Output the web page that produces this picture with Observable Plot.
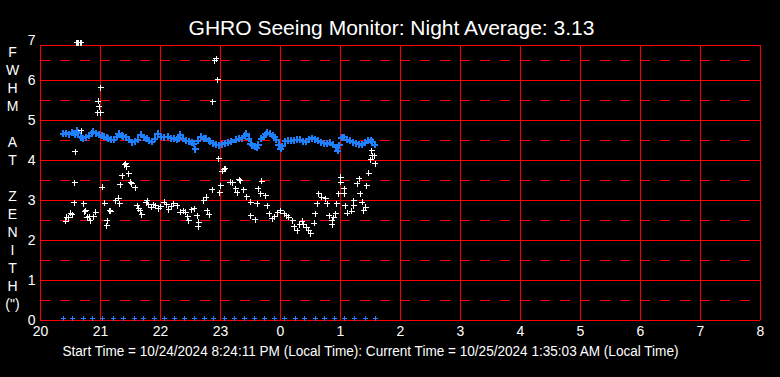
<!DOCTYPE html>
<html><head><meta charset="utf-8">
<script src="https://cdn.jsdelivr.net/npm/d3@7"></script>
<script src="https://cdn.jsdelivr.net/npm/@observablehq/plot@0.6"></script>
<style>html,body{margin:0;padding:0;background:#000;overflow:hidden;}</style>
</head><body><div id="chart"></div>
<script>
const titleText = "GHRO Seeing Monitor: Night Average: 3.13";
const footerText = "Start Time = 10/24/2024 8:24:11 PM (Local Time): Current Time = 10/25/2024 1:35:03 AM (Local Time)";
const yAxisLetters = ["F","W","H","M","\u00A0","A","T","\u00A0","Z","E","N","I","T","H","(\")"];

const xTickValues = [20,21,22,23,24,25,26,27,28,29,30,31,32];
const xTickLabels = ["20","21","22","23","0","1","2","3","4","5","6","7","8"];
const yTickValues = [0,1,2,3,4,5,6,7];
const yTickLabels = ["0","1","2","3","4","5","6","7"];
const xGrid = [21,22,23,24,25,26,27,28,29,30,31];
const yGridSolid = [1,2,3,4,5,6];
const yGridDashed = [0.5,1.5,2.5,3.5,4.5,5.5,6.5];
const xFrame = [20,32];
const yFrame = [0,6.875];

// blue series (hours, FWHM)
const blueTime = [20.383,20.433,20.483,20.533,20.567,20.600,20.633,20.667,20.700,20.750,20.800,20.850,20.883,20.933,20.967,21.017,21.050,21.100,21.133,21.183,21.217,21.267,21.300,21.350,21.383,21.433,21.483,21.533,21.583,21.617,21.667,21.717,21.767,21.800,21.850,21.900,21.950,22.000,22.050,22.117,22.167,22.217,22.267,22.300,22.333,22.383,22.433,22.467,22.517,22.550,22.583,22.617,22.667,22.717,22.750,22.800,22.833,22.883,22.917,22.967,23.017,23.083,23.133,23.183,23.250,23.300,23.350,23.400,23.433,23.467,23.500,23.533,23.567,23.600,23.633,23.683,23.717,23.750,23.783,23.833,23.867,23.900,23.933,23.967,24.000,24.033,24.083,24.133,24.183,24.233,24.283,24.333,24.383,24.417,24.467,24.517,24.567,24.617,24.667,24.717,24.767,24.817,24.867,24.917,24.950,24.983,25.017,25.050,25.100,25.150,25.200,25.250,25.300,25.350,25.400,25.450,25.500,25.533,25.567];
const blueFwhm = [4.67,4.68,4.66,4.70,4.64,4.75,4.70,4.58,4.56,4.58,4.62,4.68,4.72,4.68,4.65,4.62,4.60,4.57,4.55,4.52,4.52,4.60,4.67,4.62,4.60,4.58,4.52,4.46,4.48,4.52,4.65,4.58,4.54,4.50,4.47,4.55,4.67,4.60,4.58,4.60,4.56,4.54,4.52,4.56,4.65,4.54,4.50,4.48,4.45,4.42,4.28,4.50,4.60,4.56,4.54,4.50,4.48,4.43,4.40,4.38,4.41,4.43,4.45,4.47,4.52,4.54,4.56,4.62,4.67,4.54,4.42,4.38,4.34,4.32,4.40,4.55,4.60,4.66,4.69,4.67,4.62,4.58,4.52,4.40,4.30,4.36,4.48,4.49,4.50,4.51,4.52,4.52,4.48,4.47,4.53,4.56,4.53,4.50,4.46,4.43,4.42,4.44,4.40,4.33,4.25,4.38,4.57,4.58,4.52,4.49,4.46,4.43,4.41,4.40,4.45,4.49,4.51,4.47,4.40];

// bottom blue markers (hours, value)
const markTime = [20.39,20.53,20.71,20.87,21.04,21.21,21.39,21.56,21.72,21.90,22.07,22.23,22.40,22.57,22.73,22.89,23.07,23.23,23.40,23.57,23.73,23.90,24.06,24.25,24.40,24.58,24.74,24.90,25.07,25.24,25.42,25.58];
const markValue = [0.05,0.05,0.05,0.05,0.05,0.05,0.05,0.05,0.05,0.05,0.05,0.05,0.05,0.05,0.05,0.05,0.05,0.05,0.05,0.05,0.05,0.05,0.05,0.05,0.05,0.05,0.05,0.05,0.05,0.05,0.05,0.05];

// white series (hours, FWHM)
const whiteTime = [20.42,20.47,20.53,20.44,20.50,20.56,20.57,20.58,20.68,20.60,20.62,20.64,20.66,20.68,20.72,20.74,20.75,20.78,20.83,20.81,20.92,20.89,20.95,21.00,20.96,20.98,21.00,21.03,21.07,21.11,21.10,21.15,21.17,21.25,21.30,21.32,21.33,21.36,21.42,21.40,21.44,21.47,21.50,21.52,21.58,21.61,21.64,21.66,21.69,21.76,21.78,21.80,21.85,21.88,21.92,21.97,22.00,22.06,22.10,22.14,22.18,22.22,22.28,22.33,22.38,22.42,22.47,22.45,22.52,22.56,22.61,22.64,22.63,22.72,22.76,22.78,22.81,22.86,22.87,22.90,22.93,22.95,22.97,22.99,23.00,23.03,23.06,23.08,23.16,23.20,23.25,23.28,23.31,23.33,23.39,23.44,23.50,23.50,23.58,23.61,23.63,23.67,23.69,23.75,23.78,23.81,23.86,23.90,23.95,24.00,24.06,24.10,24.14,24.20,24.23,24.28,24.32,24.36,24.39,24.44,24.47,24.50,24.56,24.58,24.61,24.64,24.69,24.75,24.78,24.81,24.86,24.86,24.89,24.92,24.94,24.97,25.00,25.00,25.06,25.06,25.08,25.11,25.19,25.22,25.22,25.28,25.31,25.33,25.36,25.39,25.42,25.44,25.47,25.50,25.52,25.53,25.56,25.58];
const whiteFwhm = [2.48,2.57,2.65,2.58,2.68,2.94,3.44,4.22,4.75,6.95,6.95,6.95,6.95,6.95,2.92,2.72,2.75,2.58,2.50,2.60,2.71,2.60,5.19,5.19,5.48,5.35,5.82,3.33,2.93,2.50,2.37,2.75,2.73,3.00,3.06,2.92,3.39,3.62,3.92,3.90,3.85,3.67,3.46,3.42,3.32,2.87,2.80,2.75,2.65,2.95,3.00,2.90,2.83,2.90,2.87,2.79,2.85,2.96,2.90,2.77,2.85,2.92,2.87,2.71,2.75,2.71,2.50,2.60,2.77,2.79,2.62,2.46,2.35,3.00,3.08,2.75,2.65,3.27,5.47,6.50,6.54,6.02,4.04,3.19,3.37,3.73,3.78,3.79,3.46,3.45,3.29,3.20,3.52,3.50,3.27,3.10,2.96,2.62,2.52,2.92,3.29,3.17,3.48,3.12,2.87,2.67,2.54,2.60,2.70,2.75,2.67,2.62,2.58,2.50,2.35,2.25,2.40,2.48,2.40,2.32,2.25,2.17,2.43,2.67,2.92,3.17,3.08,3.04,2.92,2.62,2.50,2.40,2.57,2.67,2.92,3.17,3.58,3.46,3.29,3.17,2.87,2.68,2.73,3.00,2.87,3.42,3.54,3.17,2.96,2.75,2.83,3.37,3.68,4.02,4.25,4.12,4.12,3.92];

const blue = blueTime.map((t, i) => ({t, v: blueFwhm[i]}));
const white = whiteTime.map((t, i) => ({t, v: whiteFwhm[i]}));
const marks = markTime.map((t, i) => ({t, v: markValue[i]}));

const cross = {
  draw(ctx, size) {
    const r = Math.sqrt(size / Math.PI);
    ctx.moveTo(-r, 0); ctx.lineTo(r, 0);
    ctx.moveTo(0, -r); ctx.lineTo(0, r);
  }
};

const RED = "#ff0000";
const BLUE = "#1e80ff";

const chart = Plot.plot({
  width: 780, height: 377,
  marginLeft: 40, marginRight: 20, marginTop: 40, marginBottom: 57,
  style: {background: "#000", color: "#fff", fontFamily: "'Liberation Sans', Arial, sans-serif", fontSize: "14px"},
  x: {domain: [20, 32], ticks: xTickValues, tickFormat: d => xTickLabels[xTickValues.indexOf(d)], tickSize: 0, tickPadding: 6, label: null},
  y: {domain: [0, 7], ticks: yTickValues, tickFormat: d => yTickLabels[yTickValues.indexOf(d)], tickSize: 0, tickPadding: 5, label: null},
  marks: [
    Plot.ruleY(yGridDashed, {stroke: RED, strokeWidth: 1, strokeDasharray: "10,10", shapeRendering: "crispEdges"}),
    Plot.ruleY(yGridSolid, {stroke: RED, strokeWidth: 1, shapeRendering: "crispEdges"}),
    Plot.ruleX(xGrid, {y1: yFrame[0], y2: yFrame[1], stroke: RED, strokeWidth: 1, shapeRendering: "crispEdges"}),
    Plot.ruleY(yFrame, {stroke: RED, strokeWidth: 1, shapeRendering: "crispEdges"}),
    Plot.ruleX(xFrame, {y1: yFrame[0], y2: yFrame[1], stroke: RED, strokeWidth: 1, shapeRendering: "crispEdges"}),
    Plot.dot(blue, {x: "t", y: "v", symbol: cross, r: 3.5, stroke: BLUE, fill: "none", strokeWidth: 2, shapeRendering: "crispEdges"}),
    Plot.dot(marks, {x: "t", y: "v", symbol: cross, r: 2.5, stroke: BLUE, fill: "none", strokeWidth: 1, shapeRendering: "crispEdges"}),
    Plot.dot(white, {x: "t", y: "v", symbol: cross, r: 3, stroke: "#fff", fill: "none", strokeWidth: 1, shapeRendering: "crispEdges"}),
    Plot.text([titleText], {frameAnchor: "top", dx: -9, dy: -20, fontSize: 21, fill: "#fff"}),
    Plot.text([footerText], {frameAnchor: "bottom", dx: -30, dy: 35, fontSize: 14, fill: "#fff"}),
    Plot.text([yAxisLetters.join("\n")], {frameAnchor: "top-left", textAnchor: "middle", lineAnchor: "top", lineHeight: 18/14, dx: -28, dy: 4, fontSize: 14, fill: "#fff"})
  ]
});
document.getElementById("chart").appendChild(chart);
d3.select(chart).selectAll("text").filter(function() { return this.textContent === footerText; })
  .attr("textLength", 616).attr("lengthAdjust", "spacingAndGlyphs");
</script>
</body></html>
